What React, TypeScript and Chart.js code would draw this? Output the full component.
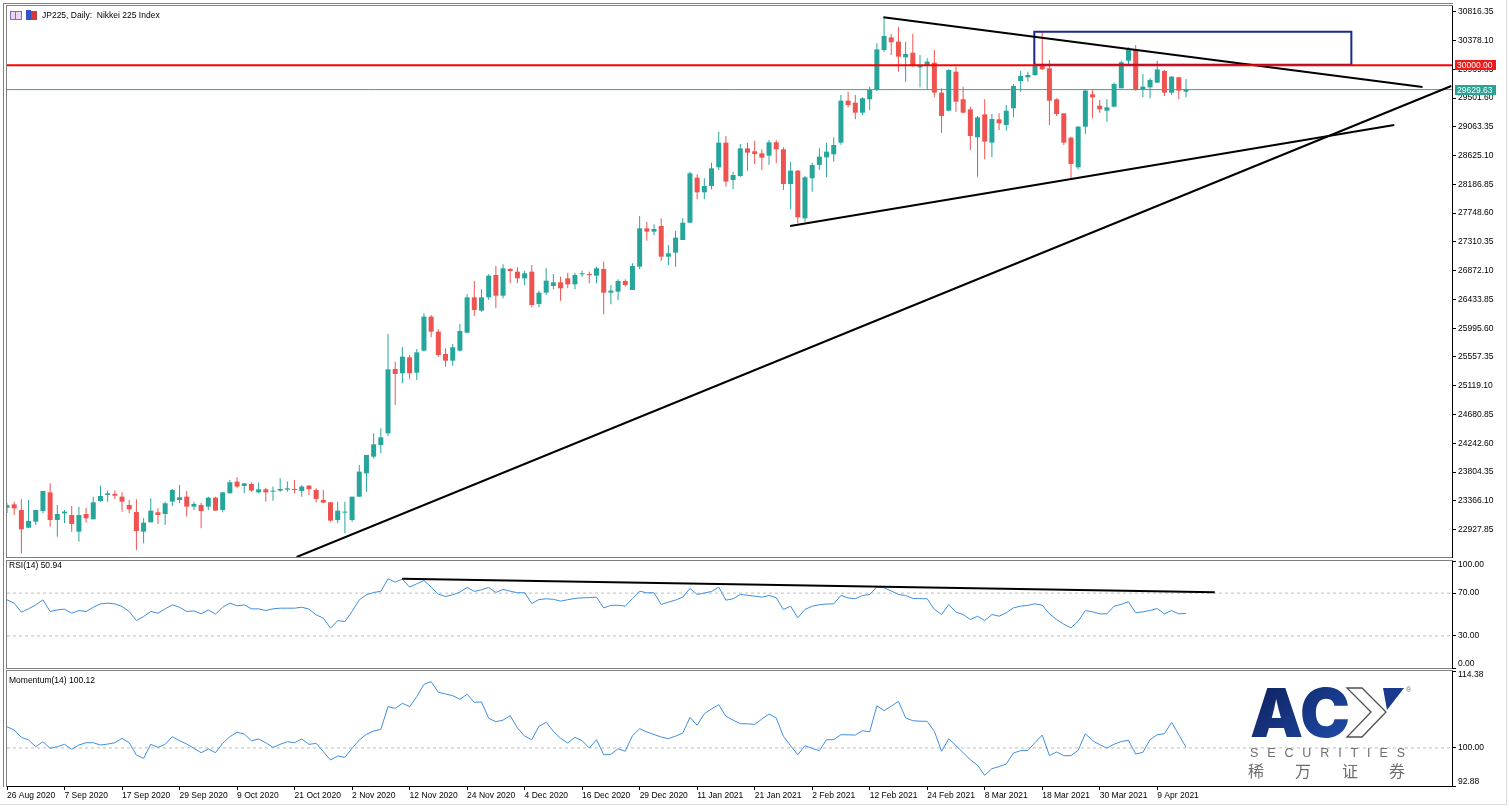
import React, { useEffect, useRef } from "react";
import { Chart, registerables } from "chart.js";

Chart.register(...registerables);

const FONT_FAMILY = '"Liberation Sans", Arial, sans-serif';
const FONT_SIZE = 8.5;
Chart.defaults.font.family = FONT_FAMILY;
Chart.defaults.font.size = FONT_SIZE;
Chart.defaults.color = "#000";
Chart.defaults.elements.point.radius = 0;

// ---------------- DATA ----------------
const OPEN = [
  23260, 23313, 23227, 22958, 23049, 23212, 23496, 23075, 23176, 23151,
  22897, 23166, 23085, 23364, 23456, 23471, 23430, 23303, 23197, 22897,
  23039, 23192, 23166, 23354, 23379, 23430, 23278, 23303, 23278, 23415,
  23227, 23481, 23659, 23593, 23623, 23496, 23542, 23506, 23522, 23537,
  23542, 23517, 23598, 23532, 23379, 23344, 23075, 23187, 23075, 23430,
  23785, 24039, 24217, 24395, 25375, 25309, 25552, 25319, 25654, 26172,
  25943, 25603, 25501, 25654, 25928, 26466, 26263, 26466, 26806, 26491,
  26898, 26857, 26755, 26857, 26365, 26537, 26639, 26694, 26755, 26664,
  26816, 26816, 26796, 26898, 26537, 26552, 26715, 26578, 26933, 27517,
  27466, 27552, 27085, 27146, 27339, 27603, 28289, 28065, 28162, 28446,
  28822, 28253, 28314, 28735, 28690, 28659, 28624, 28827, 28720, 28192,
  28395, 27669, 28279, 28482, 28598, 28644, 28822, 29461, 29431, 29278,
  29482, 29624, 30233, 30426, 30360, 30121, 30192, 29969, 29989, 30040,
  29583, 29309, 29903, 29482, 29329, 28903, 29253, 28822, 29177, 29091,
  29345, 29761, 29817, 29852, 29989, 29954, 29482, 29268, 28898, 28446,
  29065, 29558, 29385, 29309, 29370, 29649, 30070, 30243, 29624, 29664,
  29736, 29913, 29583, 29817, 29598,
];
const HIGH = [
  23330, 23354, 23390, 23379, 23227, 23517, 23633, 23303, 23227, 23288,
  23278, 23263, 23430, 23598, 23522, 23522, 23496, 23379, 23390, 23100,
  23405, 23252, 23354, 23547, 23608, 23517, 23354, 23339, 23430, 23430,
  23496, 23684, 23725, 23633, 23649, 23644, 23567, 23583, 23709, 23659,
  23684, 23608, 23608, 23557, 23532, 23354, 23354, 23354, 23430, 23913,
  24065, 24395, 24471, 25908, 25486, 25705, 25588, 25679, 26222, 26197,
  25979, 25689, 25755, 26060, 26517, 26715, 26588, 26816, 26943, 26969,
  26908, 26923, 26872, 26958, 26568, 26908, 26821, 26781, 26842, 26842,
  26872, 26857, 26933, 27009, 26654, 26740, 26740, 26984, 27705, 27618,
  27578, 27669, 27263, 27481, 27669, 28380, 28339, 28278, 28517, 28989,
  28923, 28380, 28801, 28822, 28852, 28720, 28862, 28862, 28751, 28532,
  28405, 28314, 28517, 28735, 28822, 28903, 29548, 29598, 29548, 29512,
  29675, 30334, 30731, 30477, 30578, 30360, 30477, 30157, 30106, 30233,
  29649, 29938, 29979, 29675, 29370, 29228, 29482, 29258, 29268, 29395,
  29715, 29918, 29903, 30040, 30512, 30081, 29497, 29268, 28913, 29075,
  29634, 29624, 29471, 29482, 29736, 30070, 30273, 30309, 29867, 29801,
  30070, 29928, 29837, 29827, 29791,
];
const LOW = [
  23180, 23151, 22568, 22950, 22999, 23176, 22973, 22821, 23024, 22897,
  22745, 23034, 23085, 23354, 23354, 23390, 23202, 23176, 22618, 22719,
  23039, 23014, 22999, 23288, 23329, 23126, 23227, 22948, 23227, 23217,
  23192, 23481, 23557, 23481, 23506, 23481, 23354, 23369, 23506, 23506,
  23481, 23430, 23456, 23344, 23329, 23049, 23024, 22872, 23049, 23430,
  23506, 24010, 24090, 24354, 24826, 25156, 25217, 25207, 25640, 25857,
  25562, 25410, 25425, 25640, 25918, 26182, 26248, 26425, 26299, 26451,
  26679, 26679, 26654, 26314, 26314, 26502, 26588, 26415, 26603, 26588,
  26781, 26679, 26679, 26207, 26360, 26425, 26629, 26578, 26892, 27329,
  27415, 27024, 26958, 26933, 27339, 27603, 27959, 27959, 28111, 28405,
  28152, 28111, 28300, 28390, 28497, 28405, 28482, 28507, 28101, 27811,
  27593, 27618, 28075, 28405, 28294, 28532, 28790, 29360, 29177, 29243,
  29319, 29610, 30208, 30157, 29903, 29751, 29979, 29664, 29624, 29512,
  28974, 29299, 29294, 29268, 28710, 28304, 28568, 28598, 29015, 29004,
  29207, 29598, 29751, 29837, 29928, 29091, 29228, 28786, 28278, 28416,
  28954, 29192, 29278, 29141, 29360, 29649, 29989, 29614, 29512, 29497,
  29730, 29533, 29548, 29482, 29512,
];
const CLOSE = [
  23300, 23252, 22933, 23060, 23227, 23517, 23075, 23166, 23202, 23014,
  23151, 23100, 23344, 23440, 23481, 23445, 23354, 23237, 22907, 23034,
  23217, 23151, 23329, 23532, 23420, 23278, 23319, 23212, 23415, 23217,
  23496, 23649, 23583, 23633, 23522, 23542, 23496, 23517, 23547, 23557,
  23532, 23583, 23542, 23395, 23339, 23065, 23217, 23202, 23430, 23811,
  24065, 24227, 24334, 25369, 25298, 25562, 25309, 25628, 26172, 25943,
  25588, 25501, 25705, 25953, 26466, 26273, 26466, 26796, 26491, 26908,
  26867, 26755, 26832, 26349, 26537, 26720, 26694, 26603, 26664, 26806,
  26832, 26806, 26908, 26537, 26568, 26715, 26654, 26943, 27517, 27466,
  27507, 27085, 27136, 27375, 27603, 28355, 28065, 28162, 28431, 28822,
  28228, 28329, 28735, 28669, 28649, 28593, 28827, 28720, 28192, 28395,
  27684, 28294, 28482, 28608, 28685, 28786, 29461, 29395, 29278, 29497,
  29624, 30243, 30446, 30350, 30131, 30172, 29989, 30004, 30055, 29583,
  29228, 29928, 29446, 29278, 28923, 29207, 28837, 29182, 29116, 29309,
  29685, 29837, 29852, 29989, 29938, 29461, 29258, 28822, 28497, 29065,
  29614, 29512, 29329, 29360, 29715, 30045, 30243, 29624, 29675, 29776,
  29938, 29583, 29827, 29614, 29629.63,
];
const RSI = [
  63.7, 60.6, 52.2, 55.3, 59.0, 63.7, 52.8, 54.3, 55.0, 51.2,
  53.7, 52.8, 56.8, 59.9, 60.6, 59.9, 57.5, 52.8, 44.3, 48.1,
  52.8, 51.2, 55.3, 59.0, 56.8, 52.8, 53.4, 50.6, 54.3, 50.3,
  56.8, 60.6, 58.1, 59.0, 55.3, 55.3, 53.7, 55.3, 55.9, 55.9,
  55.9, 56.8, 55.0, 49.7, 46.6, 37.2, 44.3, 43.4, 52.8, 63.7,
  68.4, 70.6, 71.6, 83.4, 80.3, 83.1, 75.6, 78.7, 81.8, 75.6,
  69.0, 66.8, 68.4, 70.9, 75.3, 71.6, 73.1, 75.3, 70.6, 73.4,
  71.8, 70.3, 70.3, 60.3, 64.0, 64.7, 64.2, 62.5, 63.8, 65.0,
  65.6, 65.8, 66.2, 56.2, 58.5, 58.7, 57.8, 65.0, 71.8, 70.3,
  70.3, 59.4, 61.6, 63.5, 66.2, 74.4, 68.7, 70.0, 71.5, 75.6,
  63.4, 64.7, 68.7, 68.0, 67.2, 66.2, 67.8, 65.6, 54.7, 57.8,
  46.9, 54.7, 57.8, 59.1, 59.8, 60.0, 67.8, 65.5, 64.7, 67.8,
  68.7, 75.6, 75.0, 72.0, 68.7, 67.8, 65.0, 64.8, 64.7, 54.7,
  50.0, 59.4, 52.2, 50.0, 45.3, 48.4, 44.4, 50.0, 48.4, 51.6,
  56.2, 57.8, 58.5, 60.0, 58.7, 50.6, 45.3, 41.0, 37.5, 43.7,
  53.7, 52.5, 50.6, 50.6, 57.8, 59.5, 61.9, 51.6, 52.5, 53.7,
  55.6, 50.6, 53.7, 50.6, 50.94,
];
const MOMENTUM = [
  103.97, 103.35, 101.98, 101.48, 100.23, 101.16, 99.93, 100.23, 100.67, 99.74,
  100.54, 100.97, 100.97, 100.54, 100.72, 100.97, 101.79, 100.97, 98.67, 98.05,
  100.67, 100.1, 100.67, 102.1, 101.35, 100.72, 99.93, 99.11, 99.8, 99.11,
  100.85, 102.1, 102.92, 102.6, 101.35, 101.67, 100.97, 100.1, 100.67, 101.16,
  100.97, 101.67, 100.67, 100.85, 99.3, 97.74, 98.49, 98.24, 99.93, 101.48,
  102.54, 103.16, 103.47, 107.71, 107.4, 108.34, 107.71, 109.58, 111.89, 112.38,
  110.4, 110.08, 109.77, 109.09, 110.02, 108.53, 108.6, 105.54, 104.9, 105.2,
  106.02, 103.72, 102.2, 101.54, 104.04, 104.8, 103.1, 101.8, 100.92, 101.98,
  101.35, 99.98, 101.54, 98.73, 98.8, 99.85, 99.37, 102.28, 103.59, 102.98,
  102.5, 102.04, 101.72, 102.2, 102.79, 105.72, 104.23, 106.4, 107.3, 108.08,
  105.91, 105.2, 104.53, 104.5, 104.4, 105.4, 106.34, 105.6, 102.17, 100.4,
  98.73, 100.42, 99.9, 99.49, 101.54, 101.54, 102.47, 102.45, 102.4, 103.22,
  103.0, 107.89, 106.96, 107.8, 108.71, 105.6, 105.09, 105.0, 104.97, 103.1,
  99.37, 101.72, 100.42, 99.1, 97.8, 96.75, 94.88, 96.12, 96.5, 96.99,
  99.05, 99.49, 99.49, 101.0, 102.4, 98.55, 99.24, 98.55, 98.55, 99.55,
  102.66, 101.35, 100.6, 99.98, 100.7, 101.2, 101.41, 98.86, 99.17, 101.54,
  102.47, 102.66, 104.79, 102.47, 100.12,
];

const X_TICK_VALUES = [0, 8, 16, 24, 32, 40, 48, 56, 64, 72, 80, 88, 96, 104, 112, 120, 128, 136, 144, 152, 160];
const X_TICK_LABELS = [
  "26 Aug 2020", "7 Sep 2020", "17 Sep 2020", "29 Sep 2020", "9 Oct 2020", "21 Oct 2020",
  "2 Nov 2020", "12 Nov 2020", "24 Nov 2020", "4 Dec 2020", "16 Dec 2020", "29 Dec 2020",
  "11 Jan 2021", "21 Jan 2021", "2 Feb 2021", "12 Feb 2021", "24 Feb 2021", "8 Mar 2021",
  "18 Mar 2021", "30 Mar 2021", "9 Apr 2021",
];
const Y_TICKS = [
  22927.85, 23366.1, 23804.35, 24242.6, 24680.85, 25119.1, 25557.35, 25995.6, 26433.85,
  26872.1, 27310.35, 27748.6, 28186.85, 28625.1, 29063.35, 29501.6, 29939.85, 30378.1, 30816.35,
];
const RSI_TICKS = [100, 70, 30, 0];
const RSI_LEVELS = [70, 30];
const MOM_TICKS = [114.38, 100, 92.88];
const MOM_LEVELS = [100];

const X_MAX = 201;
const MAIN_MIN = 22511;
const MAIN_MAX = 30903;
const MOM_MIN = 92.88;
const MOM_MAX = 114.38;

const RED_LEVEL = 30000;
const LAST_PRICE = 29629.63;

const TREND_DOWN_X = [121.9, 196.9];
const TREND_DOWN_Y = [30731, 29669];
const TREND_SUPPORT_X = [108.94, 192.97];
const TREND_SUPPORT_Y = [27552, 29091];
const TREND_UP_X = [40.29, 200.9];
const TREND_UP_Y = [22511, 29684];
const BOX_X = [142.9, 187.0];
const BOX_Y = [30010, 30512];
const RSI_TREND_X = [54.96, 168.0];
const RSI_TREND_Y = [83.4, 70.9];

// ---------------- STYLE ----------------
const GREEN = "#26a69a";
const RED = "#ef5350";
const BLUE = "#3f8fdf";
const FONT = `${FONT_SIZE}px ${FONT_FAMILY}`;

const seg = (xs: number[], ys: number[]) => xs.map((x, i) => ({ x, y: ys[i] }));
const series = (vals: number[]) => vals.map((y, x) => ({ x, y }));
const candleColor = (ctx: any) => (CLOSE[ctx.dataIndex] >= OPEN[ctx.dataIndex] ? GREEN : RED);

const lineDs = (data: any[], color: string, width: number, extra: any = {}) => ({
  type: "line",
  data,
  borderColor: color,
  borderWidth: width,
  pointRadius: 0,
  tension: 0,
  fill: false,
  order: 0,
  ...extra,
});

const framePlugin = {
  id: "frame",
  beforeDraw(chart: any) {
    const { ctx, chartArea: a } = chart;
    ctx.save();
    ctx.strokeStyle = "#7f7f7f";
    ctx.lineWidth = 1;
    ctx.strokeRect(a.left - 0.5, a.top - 0.5, a.right - a.left + 1, a.bottom - a.top + 1);
    ctx.restore();
  },
};

const labelPlugin = (values: number[]) => ({
  id: "axisLabels",
  afterDraw(chart: any) {
    const { ctx, chartArea: a } = chart;
    const s = chart.scales.y;
    ctx.save();
    ctx.font = FONT;
    ctx.fillStyle = "#000";
    ctx.textAlign = "left";
    ctx.textBaseline = "middle";
    values.forEach((v) => {
      let py = s.getPixelForValue(v);
      py = Math.min(Math.max(py, a.top + 4), a.bottom - 4);
      ctx.fillText(v.toFixed(2), a.right + 6, py);
    });
    ctx.restore();
  },
});

const priceTagPlugin = {
  id: "priceTags",
  afterDraw(chart: any) {
    const { ctx, chartArea: a } = chart;
    const s = chart.scales.y;
    const tags = [
      { v: RED_LEVEL, bg: "#f01818" },
      { v: LAST_PRICE, bg: "#2aa394" },
    ];
    ctx.save();
    ctx.font = FONT;
    ctx.textAlign = "left";
    ctx.textBaseline = "middle";
    tags.forEach((t) => {
      const py = Math.round(s.getPixelForValue(t.v));
      ctx.fillStyle = t.bg;
      ctx.fillRect(a.right + 3, py - 5, 41, 10);
      ctx.fillStyle = "#fff";
      ctx.fillText(t.v.toFixed(2), a.right + 5, py + 0.5);
    });
    ctx.restore();
  },
};

const hiddenX = { type: "linear", min: 0, max: X_MAX, display: false, offset: false, bounds: "data" };

const indicatorY = (min: number, max: number, ticks: number[]) => ({
  type: "linear",
  position: "right",
  min,
  max,
  bounds: "data",
  beginAtZero: false,
  afterBuildTicks: (s: any) => {
    s.ticks = ticks.map((v) => ({ value: v }));
  },
  afterFit: (s: any) => {
    s.width = 57;
    s.paddingTop = 0;
    s.paddingBottom = 0;
  },
  ticks: { display: false, autoSkip: false },
  grid: { drawOnChartArea: false, drawTicks: true, tickLength: 4, tickColor: "#000" },
  border: { display: true, color: "#000", width: 1 },
});

const baseOptions = {
  responsive: false,
  animation: false,
  devicePixelRatio: 1,
  events: [],
  plugins: { legend: { display: false }, tooltip: { enabled: false } },
};

function makeMain(canvas: HTMLCanvasElement) {
  return new Chart(canvas, {
    type: "bar",
    data: {
      datasets: [
        lineDs(seg([0, X_MAX], [RED_LEVEL, RED_LEVEL]), "#ff0000", 2),
        lineDs(seg(TREND_DOWN_X, TREND_DOWN_Y), "#000000", 2),
        lineDs(seg(TREND_SUPPORT_X, TREND_SUPPORT_Y), "#000000", 2),
        lineDs(seg(TREND_UP_X, TREND_UP_Y), "#000000", 2),
        lineDs(
          seg([BOX_X[0], BOX_X[0], BOX_X[1], BOX_X[1], BOX_X[0]], [BOX_Y[0], BOX_Y[1], BOX_Y[1], BOX_Y[0], BOX_Y[0]]),
          "#1b2a8c",
          2
        ),
        lineDs(seg([0, X_MAX], [LAST_PRICE, LAST_PRICE]), "#2fa89a", 1),
        {
          type: "bar",
          data: OPEN.map((o, i) => ({ x: i, y: [o, CLOSE[i]] })),
          backgroundColor: candleColor,
          barThickness: 5,
          grouped: false,
          minBarLength: 1,
          inflateAmount: 0,
          borderWidth: 0,
          order: 1,
        },
        {
          type: "bar",
          data: LOW.map((l, i) => ({ x: i, y: [l, HIGH[i]] })),
          backgroundColor: candleColor,
          barThickness: 1,
          grouped: false,
          inflateAmount: 0,
          borderWidth: 0,
          order: 2,
        },
      ] as any,
    },
    options: {
      ...baseOptions,
      layout: { padding: { left: 7, top: 6, right: 0, bottom: 3 } },
      scales: {
        x: hiddenX,
        y: {
          type: "linear",
          position: "right",
          min: MAIN_MIN,
          max: MAIN_MAX,
          bounds: "data",
          beginAtZero: false,
          afterBuildTicks: (s: any) => {
            s.ticks = Y_TICKS.map((v) => ({ value: v }));
          },
          afterFit: (s: any) => {
            s.width = 57;
            s.paddingTop = 0;
            s.paddingBottom = 0;
          },
          ticks: {
            autoSkip: false,
            padding: 2,
            color: "#000",
            font: { size: FONT_SIZE, family: FONT_FAMILY },
            callback: (v: any) => Number(v).toFixed(2),
          },
          grid: { drawOnChartArea: false, drawTicks: true, tickLength: 4, tickColor: "#000" },
          border: { display: true, color: "#000", width: 1 },
        },
      },
    } as any,
    plugins: [framePlugin, priceTagPlugin],
  });
}

function makeRsi(canvas: HTMLCanvasElement) {
  return new Chart(canvas, {
    type: "line",
    data: {
      datasets: [
        lineDs(seg(RSI_TREND_X, RSI_TREND_Y), "#000000", 2),
        lineDs(series(RSI), BLUE, 1),
        ...RSI_LEVELS.map((lv) => lineDs(seg([0, X_MAX], [lv, lv]), "#bdbdbd", 1, { borderDash: [3, 3] })),
      ] as any,
    },
    options: {
      ...baseOptions,
      layout: { padding: { left: 7, top: 5, right: 0, bottom: 4 } },
      scales: { x: hiddenX, y: indicatorY(0, 100, RSI_TICKS) },
    } as any,
    plugins: [framePlugin, labelPlugin(RSI_TICKS)],
  });
}

function makeMom(canvas: HTMLCanvasElement) {
  return new Chart(canvas, {
    type: "line",
    data: {
      datasets: [
        lineDs(series(MOMENTUM), BLUE, 1),
        ...MOM_LEVELS.map((lv) => lineDs(seg([0, X_MAX], [lv, lv]), "#bdbdbd", 1, { borderDash: [3, 3] })),
      ] as any,
    },
    options: {
      ...baseOptions,
      layout: { padding: { left: 7, top: 5, right: 0, bottom: 0 } },
      scales: {
        x: {
          type: "linear",
          min: 0,
          max: X_MAX,
          offset: false,
          bounds: "data",
          afterBuildTicks: (s: any) => {
            s.ticks = X_TICK_VALUES.map((v) => ({ value: v }));
          },
          afterFit: (s: any) => {
            s.height = 24;
            s.paddingLeft = 0;
            s.paddingRight = 0;
          },
          ticks: {
            autoSkip: false,
            maxRotation: 0,
            minRotation: 0,
            align: "start",
            padding: 1,
            color: "#000",
            font: { size: FONT_SIZE, family: FONT_FAMILY },
            callback: (v: any) => {
              const k = X_TICK_VALUES.indexOf(Number(v));
              return k >= 0 ? X_TICK_LABELS[k] : "";
            },
          },
          grid: { drawOnChartArea: false, drawTicks: true, tickLength: 4, tickColor: "#000" },
          border: { display: true, color: "#000", width: 1 },
        },
        y: indicatorY(MOM_MIN, MOM_MAX, MOM_TICKS),
      },
    } as any,
    plugins: [framePlugin, labelPlugin(MOM_TICKS)],
  });
}

function Logo() {
  return (
    <svg
      width={180}
      height={110}
      viewBox="0 0 180 110"
      style={{ position: "absolute", left: 1240, top: 676 }}
    >
      <defs>
        <linearGradient id="acyGrad" x1="0" y1="0" x2="1" y2="1">
          <stop offset="0" stopColor="#0c1b55" />
          <stop offset="1" stopColor="#2150b0" />
        </linearGradient>
      </defs>
      <text
        x={10}
        y={61}
        fontFamily="Inter, 'Liberation Sans', sans-serif"
        fontWeight={900}
        fontSize={68}
        fill="url(#acyGrad)"
        textLength={100}
        lengthAdjust="spacingAndGlyphs"
      >
        AC
      </text>
      <polygon
        points="107,12 122,12 146,36 122,61 107,61 131,36"
        fill="#ffffff"
        stroke="#505050"
        strokeWidth={1.3}
      />
      <polygon points="143,12 164,12 147,34" fill="#1a3a8e" />
      <text x={166} y={16} fontSize={7} fill="#777" fontFamily={FONT_FAMILY}>
        ®
      </text>
      <text
        x={10}
        y={81}
        fontSize={12.5}
        fill="#6e6e6e"
        fontFamily="'Liberation Sans', sans-serif"
        textLength={155}
        lengthAdjust="spacing"
      >
        SECURITIES
      </text>
      <text
        x={8}
        y={101}
        fontSize={16}
        fill="#6e6e6e"
        fontFamily="'Noto Sans CJK SC', sans-serif"
        textLength={157}
        lengthAdjust="spacing"
      >
        稀万证券
      </text>
    </svg>
  );
}

export default function App() {
  const mainRef = useRef<HTMLCanvasElement>(null);
  const rsiRef = useRef<HTMLCanvasElement>(null);
  const momRef = useRef<HTMLCanvasElement>(null);

  useEffect(() => {
    const charts = [
      makeMain(mainRef.current as HTMLCanvasElement),
      makeRsi(rsiRef.current as HTMLCanvasElement),
      makeMom(momRef.current as HTMLCanvasElement),
    ];
    return () => charts.forEach((c) => c.destroy());
  }, []);

  const textStyle: React.CSSProperties = {
    position: "absolute",
    fontFamily: FONT_FAMILY,
    fontSize: FONT_SIZE,
    lineHeight: "10px",
    color: "#000",
    whiteSpace: "pre",
  };

  return (
    <div
      style={{
        position: "absolute",
        left: 0,
        top: 0,
        width: 1509,
        height: 810,
        background: "#ffffff",
        overflow: "hidden",
      }}
    >
      <div
        style={{
          position: "absolute",
          left: 0,
          top: 0,
          width: 1506,
          height: 804,
          borderRight: "1px solid #dcdcdc",
          borderBottom: "1px solid #dcdcdc",
        }}
      />
      <div style={{ position: "absolute", left: 3, top: 3, width: 1, height: 784, background: "#7f7f7f" }} />
      <div style={{ position: "absolute", left: 3, top: 3, width: 1450, height: 1, background: "#7f7f7f" }} />
      <canvas
        ref={mainRef}
        width={1509}
        height={560}
        style={{ position: "absolute", left: 0, top: 0, width: 1509, height: 560 }}
      />
      <canvas
        ref={rsiRef}
        width={1509}
        height={116}
        style={{ position: "absolute", left: 0, top: 556, width: 1509, height: 116 }}
      />
      <canvas
        ref={momRef}
        width={1509}
        height={144}
        style={{ position: "absolute", left: 0, top: 666, width: 1509, height: 144 }}
      />
      <div style={{ position: "absolute", left: 10, top: 11, width: 10, height: 7, border: "1px solid #6f6fd6", background: "#ecd6f2" }} />
      <div style={{ position: "absolute", left: 15, top: 12, width: 1, height: 7, background: "#6f6fd6" }} />
      <div style={{ position: "absolute", left: 26, top: 10, width: 5, height: 10, background: "#3452c8" }} />
      <div style={{ position: "absolute", left: 31, top: 11, width: 6, height: 9, background: "#d23a3a" }} />
      <div style={{ ...textStyle, left: 42, top: 10 }}>{"JP225, Daily:  Nikkei 225 Index"}</div>
      <div style={{ ...textStyle, left: 9, top: 560 }}>{"RSI(14) 50.94"}</div>
      <div style={{ ...textStyle, left: 9, top: 675 }}>{"Momentum(14) 100.12"}</div>
      <Logo />
    </div>
  );
}
